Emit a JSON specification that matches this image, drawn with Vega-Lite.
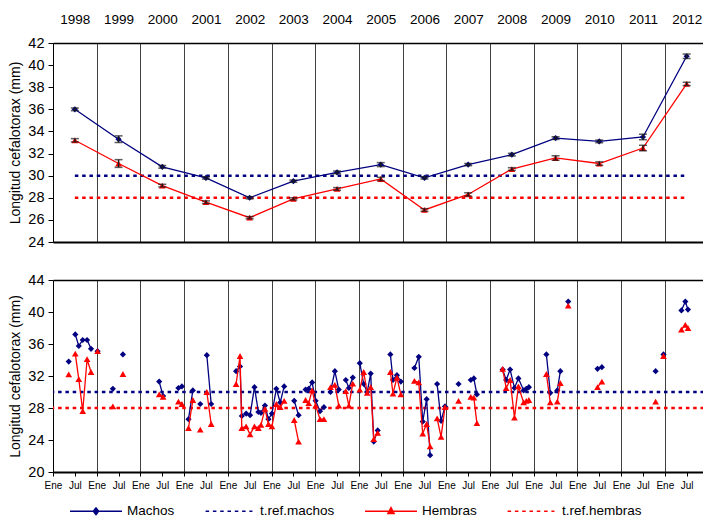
{
  "$schema": "https://vega.github.io/schema/vega-lite/v6.json",
  "padding": {"left": 8, "top": 12, "right": 0, "bottom": 0},
  "background": "white",
  "spacing": 23,
  "config": {
    "view": {"stroke": null},
    "font": "Liberation Sans",
    "axis": {"labelFont": "Liberation Sans", "titleFont": "Liberation Sans", "labelColor": "black", "titleColor": "black", "domainColor": "black", "tickColor": "black", "titleFontWeight": "normal", "labelFontSize": 14.5, "titleFontSize": 14},
    "legend": {"orient": "none", "legendX": 16, "legendY": 204, "direction": "horizontal", "columns": 4, "columnPadding": 27, "symbolSize": 2704, "symbolStrokeWidth": 1.5, "labelFont": "Liberation Sans", "labelFontSize": 13.5, "labelColor": "black", "labelOffset": 4, "symbolOpacity": 1}
  },
  "resolve": {"scale": {"color": "independent", "shape": "independent", "fill": "independent", "stroke": "independent", "strokeDash": "independent"}, "legend": {"color": "independent", "shape": "independent", "fill": "independent", "stroke": "independent", "strokeDash": "independent"}},
  "datasets": {
    "top": [
      {"t": 1998.5, "M": 36.0, "Ml": 35.88, "Mh": 36.12, "H": 33.2, "Hl": 33.05, "Hh": 33.35},
      {"t": 1999.5, "M": 33.3, "Ml": 33.0, "Mh": 33.6, "H": 31.1, "Hl": 30.75, "Hh": 31.45},
      {"t": 2000.5, "M": 30.8, "Ml": 30.68, "Mh": 30.92, "H": 29.1, "Hl": 28.98, "Hh": 29.22},
      {"t": 2001.5, "M": 29.8, "Ml": 29.7, "Mh": 29.9, "H": 27.6, "Hl": 27.48, "Hh": 27.72},
      {"t": 2002.5, "M": 28.0, "Ml": 27.9, "Mh": 28.1, "H": 26.2, "Hl": 26.1, "Hh": 26.3},
      {"t": 2003.5, "M": 29.5, "Ml": 29.4, "Mh": 29.6, "H": 27.9, "Hl": 27.8, "Hh": 28.0},
      {"t": 2004.5, "M": 30.3, "Ml": 30.18, "Mh": 30.42, "H": 28.8, "Hl": 28.68, "Hh": 28.92},
      {"t": 2005.5, "M": 31.0, "Ml": 30.82, "Mh": 31.18, "H": 29.7, "Hl": 29.55, "Hh": 29.85},
      {"t": 2006.5, "M": 29.8, "Ml": 29.7, "Mh": 29.9, "H": 26.9, "Hl": 26.78, "Hh": 27.02},
      {"t": 2007.5, "M": 31.0, "Ml": 30.9, "Mh": 31.1, "H": 28.3, "Hl": 28.15, "Hh": 28.45},
      {"t": 2008.5, "M": 31.9, "Ml": 31.78, "Mh": 32.02, "H": 30.6, "Hl": 30.48, "Hh": 30.72},
      {"t": 2009.5, "M": 33.4, "Ml": 33.28, "Mh": 33.52, "H": 31.6, "Hl": 31.4, "Hh": 31.8},
      {"t": 2010.5, "M": 33.1, "Ml": 32.98, "Mh": 33.22, "H": 31.1, "Hl": 30.95, "Hh": 31.25},
      {"t": 2011.5, "M": 33.5, "Ml": 33.25, "Mh": 33.75, "H": 32.5, "Hl": 32.25, "Hh": 32.75},
      {"t": 2012.5, "M": 40.8, "Ml": 40.6, "Mh": 41.0, "H": 38.3, "Hl": 38.15, "Hh": 38.45}
    ],
    "bot": [
      {"t": 1998.36, "r": 1, "M": 33.8, "H": 32.2},
      {"t": 1998.51, "r": 2, "M": 37.2, "H": 34.8},
      {"t": 1998.59, "r": 2, "M": 35.75, "H": 31.6},
      {"t": 1998.68, "r": 2, "M": 36.5, "H": 27.6},
      {"t": 1998.78, "r": 2, "M": 36.5, "H": 34.1},
      {"t": 1998.87, "r": 2, "M": 35.4, "H": 32.5},
      {"t": 1999.02, "r": 3, "M": 35.1, "H": 35.1},
      {"t": 1999.37, "r": 4, "M": 30.4, "H": 28.2},
      {"t": 1999.6, "r": 5, "M": 34.7, "H": 32.25},
      {"t": 2000.43, "r": 6, "M": 31.3, "H": 29.7},
      {"t": 2000.52, "r": 6, "M": 29.5, "H": 29.4},
      {"t": 2000.87, "r": 7, "M": 30.5, "H": 28.8},
      {"t": 2000.95, "r": 7, "M": 30.7, "H": 28.5},
      {"t": 2001.1, "r": 8, "M": 26.6, "H": 25.5},
      {"t": 2001.2, "r": 8, "M": 30.2, "H": 29.0},
      {"t": 2001.37, "r": 9, "M": 28.5, "H": 25.3},
      {"t": 2001.52, "r": 10, "M": 34.6, "H": 30.0},
      {"t": 2001.62, "r": 10, "M": 28.5, "H": 26.0},
      {"t": 2002.19, "r": 11, "M": 32.6, "H": 31.0},
      {"t": 2002.28, "r": 11, "M": 33.2, "H": 34.5},
      {"t": 2002.32, "r": 11, "M": 27.0, "H": 25.5},
      {"t": 2002.42, "r": 11, "M": 27.3, "H": 25.7},
      {"t": 2002.51, "r": 11, "M": 27.1, "H": 24.7},
      {"t": 2002.61, "r": 11, "M": 30.6, "H": 25.7},
      {"t": 2002.7, "r": 11, "M": 27.5, "H": 25.5},
      {"t": 2002.76, "r": 11, "M": 27.4, "H": 25.9},
      {"t": 2002.85, "r": 11, "M": 28.3, "H": 27.9},
      {"t": 2002.93, "r": 11, "M": 26.6, "H": 26.0},
      {"t": 2003.01, "r": 11, "M": 27.3, "H": 25.7},
      {"t": 2003.11, "r": 11, "M": 30.4, "H": 28.5},
      {"t": 2003.2, "r": 11, "M": 28.7, "H": 28.1},
      {"t": 2003.29, "r": 11, "M": 30.7, "H": 28.9},
      {"t": 2003.52, "r": 12, "M": 28.9, "H": 26.5},
      {"t": 2003.62, "r": 12, "M": 27.1, "H": 23.8},
      {"t": 2003.78, "r": 13, "M": 30.3, "H": 29.0},
      {"t": 2003.85, "r": 13, "M": 30.4, "H": 28.6},
      {"t": 2003.93, "r": 13, "M": 31.2, "H": 30.2},
      {"t": 2004.01, "r": 13, "M": 28.9, "H": 28.3},
      {"t": 2004.11, "r": 13, "M": 27.6, "H": 26.6},
      {"t": 2004.2, "r": 13, "M": 28.1, "H": 26.6},
      {"t": 2004.35, "r": 14, "M": 30.0, "H": 30.6},
      {"t": 2004.45, "r": 14, "M": 32.6, "H": 30.9},
      {"t": 2004.54, "r": 14, "M": 30.3, "H": 28.3},
      {"t": 2004.7, "r": 15, "M": 31.5, "H": 30.1},
      {"t": 2004.77, "r": 15, "M": 30.5, "H": 28.3},
      {"t": 2004.86, "r": 15, "M": 31.8, "H": 31.05},
      {"t": 2005.02, "r": 16, "M": 33.6, "H": 30.3},
      {"t": 2005.11, "r": 16, "M": 31.0, "H": 32.5},
      {"t": 2005.19, "r": 16, "M": 30.0, "H": 29.9},
      {"t": 2005.27, "r": 16, "M": 32.3, "H": 30.6},
      {"t": 2005.34, "r": 16, "M": 23.8, "H": 24.1},
      {"t": 2005.43, "r": 16, "M": 25.2, "H": 24.9},
      {"t": 2005.72, "r": 17, "M": 34.7, "H": 32.5},
      {"t": 2005.78, "r": 17, "M": 31.5, "H": 29.8},
      {"t": 2005.87, "r": 17, "M": 32.1, "H": 31.8},
      {"t": 2005.96, "r": 17, "M": 31.3, "H": 29.7},
      {"t": 2006.27, "r": 18, "M": 33.0, "H": 31.4},
      {"t": 2006.37, "r": 18, "M": 34.4, "H": 31.2},
      {"t": 2006.46, "r": 18, "M": 26.3, "H": 24.8},
      {"t": 2006.55, "r": 18, "M": 29.1, "H": 26.0},
      {"t": 2006.63, "r": 18, "M": 22.1, "H": 23.2},
      {"t": 2006.79, "r": 19, "M": 31.0, "H": 26.7},
      {"t": 2006.88, "r": 19, "M": 26.4, "H": 24.4},
      {"t": 2006.97, "r": 19, "M": 28.2, "H": 28.1},
      {"t": 2007.28, "r": 20, "M": 31.0, "H": 28.9},
      {"t": 2007.56, "r": 21, "M": 31.5, "H": 29.4},
      {"t": 2007.63, "r": 21, "M": 31.7, "H": 29.3},
      {"t": 2007.7, "r": 21, "M": 29.7, "H": 26.1},
      {"t": 2008.29, "r": 22, "M": 32.8, "H": 32.9},
      {"t": 2008.37, "r": 22, "M": 31.5, "H": 30.5},
      {"t": 2008.46, "r": 22, "M": 32.8, "H": 31.5},
      {"t": 2008.56, "r": 22, "M": 30.5, "H": 26.8},
      {"t": 2008.65, "r": 22, "M": 31.7, "H": 30.7},
      {"t": 2008.77, "r": 22, "M": 30.2, "H": 28.7},
      {"t": 2008.83, "r": 22, "M": 30.4, "H": 28.9},
      {"t": 2008.89, "r": 22, "M": 30.6, "H": 29.0},
      {"t": 2009.29, "r": 23, "M": 34.7, "H": 32.25},
      {"t": 2009.38, "r": 23, "M": 29.9, "H": 28.7},
      {"t": 2009.54, "r": 24, "M": 30.2, "H": 28.8},
      {"t": 2009.61, "r": 24, "M": 32.6, "H": 31.1},
      {"t": 2009.79, "r": 25, "M": 41.3, "H": 40.8},
      {"t": 2010.46, "r": 26, "M": 32.9, "H": 30.6},
      {"t": 2010.56, "r": 26, "M": 33.1, "H": 31.3},
      {"t": 2011.79, "r": 27, "M": 32.6, "H": 28.8},
      {"t": 2011.97, "r": 28, "M": 34.7, "H": 34.5},
      {"t": 2012.38, "r": 29, "M": 40.2, "H": 37.8},
      {"t": 2012.47, "r": 29, "M": 41.3, "H": 38.4},
      {"t": 2012.53, "r": 29, "M": 40.3, "H": 38.0}
    ]
  },
  "vconcat": [
    {
      "width": 651,
      "height": 199,
      "data": {"name": "top"},
      "resolve": {"axis": {"x": "independent"}},
      "layer": [
        {
          "data": {"values": [{"ref": "t.ref.machos", "y": 30, "x1": 1998.5, "x2": 2012.5}, {"ref": "t.ref.hembras", "y": 28, "x1": 1998.5, "x2": 2012.5}]},
          "mark": {"type": "rule", "strokeDash": [3.5, 3.8], "strokeWidth": 2.5},
          "encoding": {
            "x": {"field": "x1", "type": "quantitative", "scale": {"domain": [1998, 2012.897], "nice": false, "zero": false}, "axis": null},
            "x2": {"field": "x2"},
            "y": {"field": "y", "type": "quantitative", "scale": {"domain": [24, 42], "nice": false, "zero": false}, "axis": {"title": "Longitud cefalotorax (mm)", "values": [24, 26, 28, 30, 32, 34, 36, 38, 40, 42], "grid": false, "tickSize": 5, "labelPadding": 4, "titlePadding": 5}},
            "color": {"field": "ref", "type": "nominal", "scale": {"domain": ["t.ref.machos", "t.ref.hembras"], "range": ["#000080", "#FF0000"]}, "legend": null}
          }
        },
        {
          "mark": {"type": "line", "color": "#000080", "strokeWidth": 1.3, "point": {"shape": "diamond", "size": 38, "filled": true, "color": "#000080", "opacity": 1}},
          "encoding": {
            "x": {"field": "t", "type": "quantitative", "scale": {"domain": [1998, 2012.897], "nice": false, "zero": false}, "axis": {"orient": "top", "values": [1998.5, 1999.5, 2000.5, 2001.5, 2002.5, 2003.5, 2004.5, 2005.5, 2006.5, 2007.5, 2008.5, 2009.5, 2010.5, 2011.5, 2012.5], "labelExpr": "'' + floor(datum.value)", "ticks": false, "grid": false, "domainWidth": 1.5, "labelPadding": 17, "labelFontSize": 13.5, "labelFlush": false, "labelOverlap": false, "labelBound": false, "title": null}},
            "y": {"field": "M", "type": "quantitative", "axis": {"title": "Longitud cefalotorax (mm)", "values": [24, 26, 28, 30, 32, 34, 36, 38, 40, 42], "grid": false, "tickSize": 5, "labelPadding": 4, "titlePadding": 5}}
          }
        },
        {
          "mark": {"type": "line", "color": "#FF0000", "strokeWidth": 1.3, "point": {"shape": "triangle-up", "size": 45, "filled": true, "color": "#FF0000", "opacity": 1}},
          "encoding": {
            "x": {"field": "t", "type": "quantitative", "scale": {"domain": [1998, 2012.897], "nice": false, "zero": false}, "axis": {"orient": "bottom", "values": [1998, 1999, 2000, 2001, 2002, 2003, 2004, 2005, 2006, 2007, 2008, 2009, 2010, 2011, 2012], "grid": true, "gridColor": "#404040", "gridWidth": 1, "gridOpacity": 1, "labels": false, "ticks": false, "domainWidth": 2, "title": null}},
            "y": {"field": "H", "type": "quantitative", "axis": {"title": "Longitud cefalotorax (mm)", "values": [24, 26, 28, 30, 32, 34, 36, 38, 40, 42], "grid": false, "tickSize": 5, "labelPadding": 4, "titlePadding": 5}}
          }
        },
        {
          "mark": {"type": "errorbar", "ticks": {"size": 8, "thickness": 1.5, "color": "#1a1a1a"}, "thickness": 1.5, "color": "#1a1a1a"},
          "encoding": {
            "x": {"field": "t", "type": "quantitative", "scale": {"domain": [1998, 2012.897], "nice": false, "zero": false}, "axis": null},
            "y": {"field": "Ml", "type": "quantitative", "axis": {"title": "Longitud cefalotorax (mm)", "values": [24, 26, 28, 30, 32, 34, 36, 38, 40, 42], "grid": false, "tickSize": 5, "labelPadding": 4, "titlePadding": 5}},
            "y2": {"field": "Mh"}
          }
        },
        {
          "mark": {"type": "errorbar", "ticks": {"size": 8, "thickness": 1.5, "color": "#1a1a1a"}, "thickness": 1.5, "color": "#1a1a1a"},
          "encoding": {
            "x": {"field": "t", "type": "quantitative", "scale": {"domain": [1998, 2012.897], "nice": false, "zero": false}, "axis": null},
            "y": {"field": "Hl", "type": "quantitative", "axis": {"title": "Longitud cefalotorax (mm)", "values": [24, 26, 28, 30, 32, 34, 36, 38, 40, 42], "grid": false, "tickSize": 5, "labelPadding": 4, "titlePadding": 5}},
            "y2": {"field": "Hh"}
          }
        }
      ]
    },
    {
      "width": 651,
      "height": 192,
      "data": {"name": "bot"},
      "resolve": {"axis": {"x": "independent"}},
      "layer": [
        {
          "data": {"values": [{"ref": "t.ref.machos", "y": 30}, {"ref": "t.ref.hembras", "y": 28}]},
          "mark": {"type": "rule", "strokeDash": [3.5, 3.8], "strokeWidth": 2.5},
          "encoding": {
            "y": {"field": "y", "type": "quantitative", "scale": {"domain": [20, 44], "nice": false, "zero": false}, "axis": {"title": "Longitud cefalotorax (mm)", "values": [20, 24, 28, 32, 36, 40, 44], "grid": false, "tickSize": 5, "labelPadding": 4, "titlePadding": 5}},
            "color": {"field": "ref", "type": "nominal", "scale": {"domain": ["t.ref.machos", "t.ref.hembras"], "range": ["#000080", "#FF0000"]}, "legend": null}
          }
        },
        {
          "mark": {"type": "line", "color": "#000080", "strokeWidth": 1.3, "point": {"shape": "diamond", "size": 38, "filled": true, "color": "#000080", "opacity": 1}},
          "encoding": {
            "x": {"field": "t", "type": "quantitative", "scale": {"domain": [1998, 2012.897], "nice": false, "zero": false}, "axis": {"orient": "top", "values": [1999, 2000, 2001, 2002, 2003, 2004, 2005, 2006, 2007, 2008, 2009, 2010, 2011, 2012], "grid": true, "gridColor": "#404040", "gridWidth": 1, "gridOpacity": 1, "labels": false, "ticks": false, "domainWidth": 1.5, "title": null}},
            "y": {"field": "M", "type": "quantitative", "axis": {"title": "Longitud cefalotorax (mm)", "values": [20, 24, 28, 32, 36, 40, 44], "grid": false, "tickSize": 5, "labelPadding": 4, "titlePadding": 5}},
            "detail": {"field": "r", "type": "nominal"}
          }
        },
        {
          "mark": {"type": "line", "color": "#FF0000", "strokeWidth": 1.3, "point": {"shape": "triangle-up", "size": 45, "filled": true, "color": "#FF0000", "opacity": 1}},
          "encoding": {
            "x": {"field": "t", "type": "quantitative", "scale": {"domain": [1998, 2012.897], "nice": false, "zero": false}, "axis": {"orient": "bottom", "values": [1998, 1998.5, 1999, 1999.5, 2000, 2000.5, 2001, 2001.5, 2002, 2002.5, 2003, 2003.5, 2004, 2004.5, 2005, 2005.5, 2006, 2006.5, 2007, 2007.5, 2008, 2008.5, 2009, 2009.5, 2010, 2010.5, 2011, 2011.5, 2012, 2012.5], "labelExpr": "datum.value % 1 == 0 ? 'Ene' : 'Jul'", "tickSize": 4, "labelFontSize": 10, "labelPadding": 4, "domainWidth": 2, "labelFlush": false, "labelOverlap": false, "labelBound": false, "grid": false, "title": null}},
            "y": {"field": "H", "type": "quantitative", "axis": {"title": "Longitud cefalotorax (mm)", "values": [20, 24, 28, 32, 36, 40, 44], "grid": false, "tickSize": 5, "labelPadding": 4, "titlePadding": 5}},
            "detail": {"field": "r", "type": "nominal"}
          }
        },
        {
          "data": {"values": [{"s": "Machos"}, {"s": "t.ref.machos"}, {"s": "Hembras"}, {"s": "t.ref.hembras"}]},
          "transform": [{"filter": "false"}],
          "mark": {"type": "point", "filled": true, "opacity": 1},
          "encoding": {
            "shape": {"field": "s", "type": "nominal", "scale": {"domain": ["Machos", "t.ref.machos", "Hembras", "t.ref.hembras"], "range": ["M-1,0H1M0,-0.13L0.1,0L0,0.13L-0.1,0Z", "M-0.9,0H0.9", "M-1,0H1M0,-0.14L0.12,0.09L-0.12,0.09Z", "M-0.9,0H0.9"]}, "legend": {"title": null}},
            "fill": {"field": "s", "type": "nominal", "scale": {"domain": ["Machos", "t.ref.machos", "Hembras", "t.ref.hembras"], "range": ["#000080", "transparent", "#FF0000", "transparent"]}, "legend": {"title": null}},
            "stroke": {"field": "s", "type": "nominal", "scale": {"domain": ["Machos", "t.ref.machos", "Hembras", "t.ref.hembras"], "range": ["#000080", "#000080", "#FF0000", "#FF0000"]}, "legend": {"title": null}},
            "strokeDash": {"field": "s", "type": "nominal", "scale": {"domain": ["Machos", "t.ref.machos", "Hembras", "t.ref.hembras"], "range": [[1, 0], [3.5, 3.8], [1, 0], [3.5, 3.8]]}, "legend": {"title": null}}
          }
        }
      ]
    }
  ]
}
